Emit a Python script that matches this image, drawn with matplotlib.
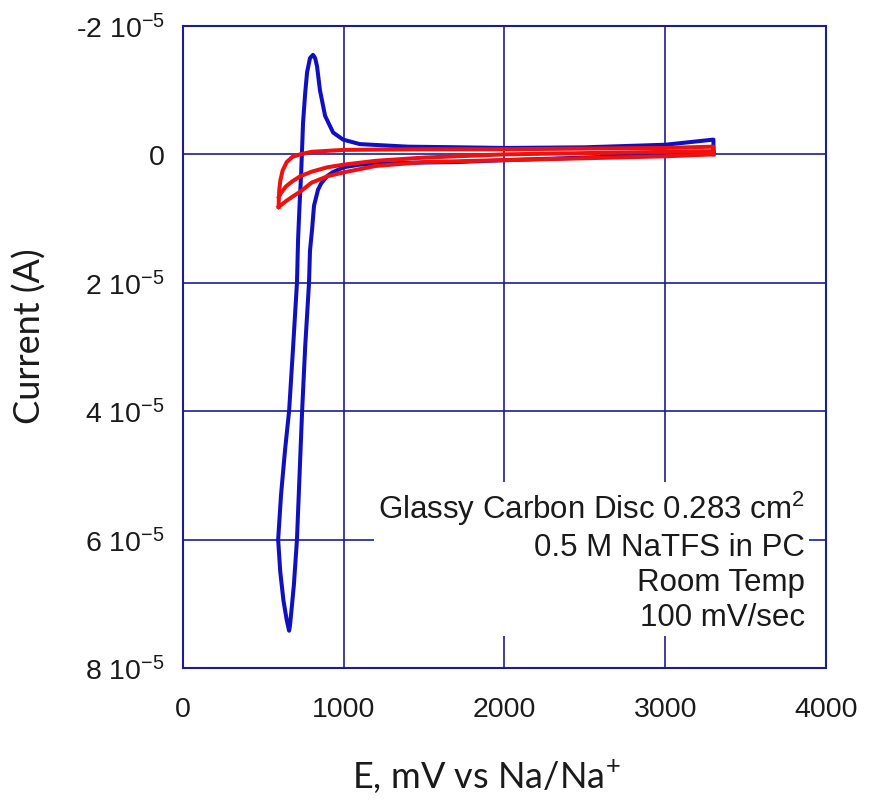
import matplotlib
matplotlib.use('Agg')
import matplotlib.pyplot as plt

plt.rcParams['font.family'] = ['Liberation Sans', 'DejaVu Sans']
plt.rcParams['mathtext.fontset'] = 'custom'
plt.rcParams['mathtext.rm'] = 'Liberation Sans'
plt.rcParams['mathtext.it'] = 'Liberation Sans'

# current in units of 1e-5 A, positive = cathodic (plotted downward)
# blue curve: cathodic scan then return with stripping peak
blue_E = [3300, 3000, 2500, 2000, 1700, 1400, 1100, 1000, 930, 896, 860, 840, 815, 803,
          790, 784, 760, 741, 725, 709, 690, 675, 665, 660, 645, 625, 605, 592,
          610, 635, 660, 685, 709, 716, 725, 735, 740, 747, 760, 772, 790, 809,
          822, 834, 852, 884, 934, 996, 1100, 1400, 1724, 2000, 2500, 3000, 3300, 3300]
blue_I = [-0.03, 0.0, 0.05, 0.09, 0.12, 0.13, 0.16, 0.2, 0.28, 0.34, 0.45, 0.55, 0.8, 1.17,
          1.5, 2.0, 3.0, 4.0, 5.0, 6.0, 6.7, 7.1, 7.35, 7.42, 7.25, 6.95, 6.5, 6.0,
          5.3, 4.6, 4.0, 3.0, 2.0, 1.32, 0.8, 0.3, -0.03, -0.5, -0.95, -1.28, -1.5, -1.55,
          -1.5, -1.37, -1.0, -0.6, -0.34, -0.23, -0.16, -0.12, -0.11, -0.1, -0.11, -0.15, -0.23, -0.03]

# red curves: two cathodic scans and the anodic return
red_low_E = [3300, 3000, 2500, 2000, 1500, 1200, 1000, 900, 800, 730, 680, 640, 615, 595]
red_low_I = [0.0, 0.03, 0.06, 0.09, 0.12, 0.18, 0.28, 0.34, 0.44, 0.58, 0.66, 0.73, 0.78, 0.82]

red_mid_E = [3300, 2500, 2000, 1500, 1200, 1000, 900, 800, 730, 680, 640, 610, 597]
red_mid_I = [-0.05, -0.02, 0.0, 0.05, 0.1, 0.16, 0.2, 0.27, 0.34, 0.42, 0.5, 0.6, 0.66]

red_up_E = [595, 596, 599, 606, 620, 645, 680, 728, 800, 1000, 1500, 2000, 2500, 3000, 3300, 3300]
red_up_I = [0.82, 0.7, 0.55, 0.4, 0.25, 0.12, 0.04, 0.0, -0.04, -0.07, -0.08, -0.08, -0.09, -0.1, -0.12, 0.0]

yticks = [-2, 0, 2, 4, 6, 8]
ytick_labels = ['-2 10$^{-5}$', '0', '2 10$^{-5}$', '4 10$^{-5}$', '6 10$^{-5}$', '8 10$^{-5}$']
xticks = [0, 1000, 2000, 3000, 4000]

navy = '#1c1c96'

fig = plt.figure(figsize=(8.71, 8.03), dpi=100)
ax = fig.add_axes([0.2101, 0.1669, 0.7382, 0.7995])

ax.plot(blue_E, blue_I, color='#1010c0', lw=2.9, zorder=2)
ax.plot(red_low_E, red_low_I, color='#f01010', lw=2.9, zorder=3)
ax.plot(red_mid_E, red_mid_I, color='#f01010', lw=2.9, zorder=3)
ax.plot(red_up_E, red_up_I, color='#f01010', lw=2.9, zorder=3)

ax.set_xlim(0, 4000)
ax.set_ylim(8, -2)
ax.set_xticks(xticks)
ax.set_xticklabels([str(x) for x in xticks])
ax.set_yticks(yticks)
ax.set_yticklabels(ytick_labels)
ax.tick_params(length=0, labelsize=20.5, colors='#1a1a1a')
ax.tick_params(axis='x', pad=20)
ax.tick_params(axis='y', pad=13)
ax.grid(True, color=navy, lw=1.2, zorder=1)
ax.set_axisbelow(True)
for s in ax.spines.values():
    s.set_color(navy)
    s.set_linewidth(1.5)

ax.set_xlabel('E, mV vs Na/Na$^{+}$', fontsize=26, family=['Lato', 'DejaVu Sans'],
              color='#1a1a1a')
ax.xaxis.set_label_coords(0.471, -0.138)
ax.set_ylabel('Current (A)', fontsize=26, family=['Lato', 'DejaVu Sans'],
              color='#1a1a1a')
ax.yaxis.set_label_coords(-0.212, 0.518)

ax.text(0.967, 0.056,
        'Glassy Carbon Disc 0.283 cm$^2$\n0.5 M NaTFS in PC\nRoom Temp\n100 mV/sec',
        transform=ax.transAxes, ha='right', va='bottom', multialignment='right',
        fontsize=22.5, color='#1a1a1a', linespacing=1.22, zorder=4,
        bbox=dict(facecolor='white', edgecolor='none', pad=3))

fig.savefig('out.png', dpi=100)
